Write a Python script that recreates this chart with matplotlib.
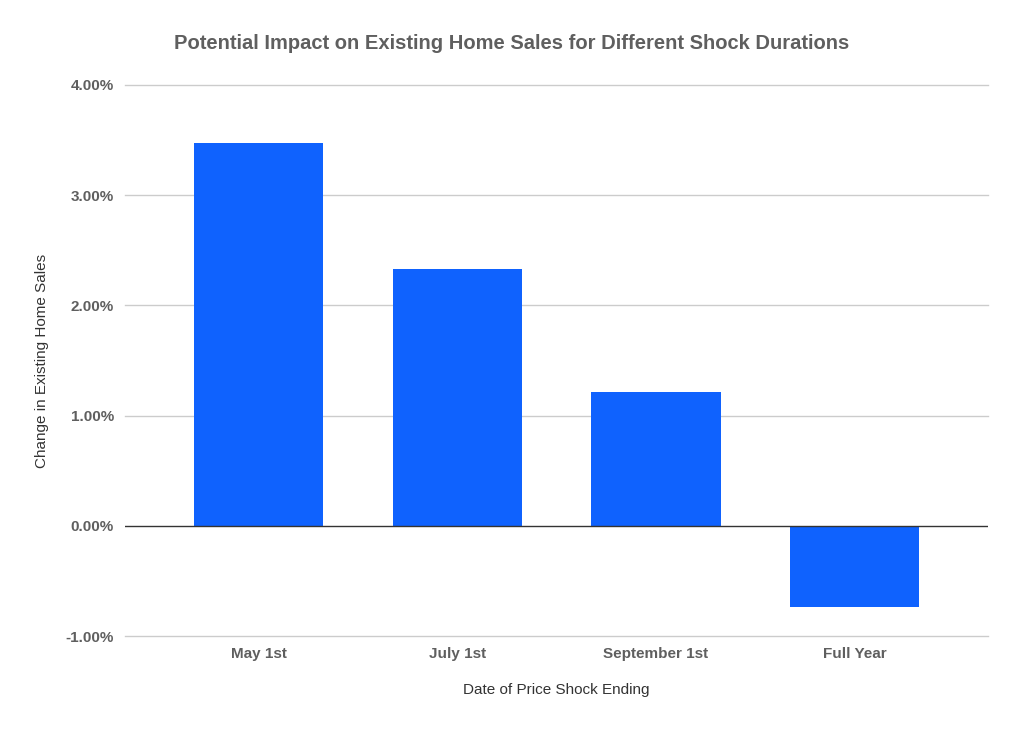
import numpy as np
import matplotlib.pyplot as plt
from matplotlib.ticker import FuncFormatter

plt.rcParams['font.family'] = ['Liberation Sans', 'DejaVu Sans']

#data
categories = ['May 1st', 'July 1st', 'September 1st', 'Full Year']
impact = [3.475, 2.33, 1.215, -0.735]   # percent
yticks = [-1, 0, 1, 2, 3, 4]

fig = plt.figure(figsize=(10.24, 7.32), dpi=100)
ax = fig.add_axes([0.122, 0.1311, 0.843, 0.7528])

x = np.arange(len(categories))
ax.bar(x, impact, width=0.65, color='#0f62fe', zorder=3)

ax.set_xlim(-0.672, 3.671)
ax.set_ylim(-1, 4)
ax.set_yticks(yticks)
ax.yaxis.set_major_formatter(FuncFormatter(lambda v, p: '%.2f%%' % v))
ax.set_xticks(x)
ax.set_xticklabels(categories)

#gridlines drawn by hand so the edge ones are not clipped
for t in yticks:
    if t != 0:
        ax.axhline(t, color='#cccccc', linewidth=1, zorder=0, clip_on=False)
ax.axhline(0, color='#333333', linewidth=1, zorder=4)
for s in ax.spines.values():
    s.set_visible(False)
ax.tick_params(length=0, labelsize=11, labelcolor='#5f5f5f')
for lbl in ax.get_xticklabels() + ax.get_yticklabels():
    lbl.set_fontweight('bold')
ax.tick_params(axis='y', pad=8)
ax.tick_params(axis='x', pad=8)

ax.set_xlabel('Date of Price Shock Ending', fontsize=11, color='#333333', labelpad=16)
ax.set_ylabel('Change in Existing Home Sales', fontsize=11, color='#333333', labelpad=12)
fig.text(0.5, 0.940, 'Potential Impact on Existing Home Sales for Different Shock Durations',
         ha='center', va='center', fontsize=14.5, fontweight='bold', color='#5f5f5f')

plt.savefig('out.png', dpi=100)
